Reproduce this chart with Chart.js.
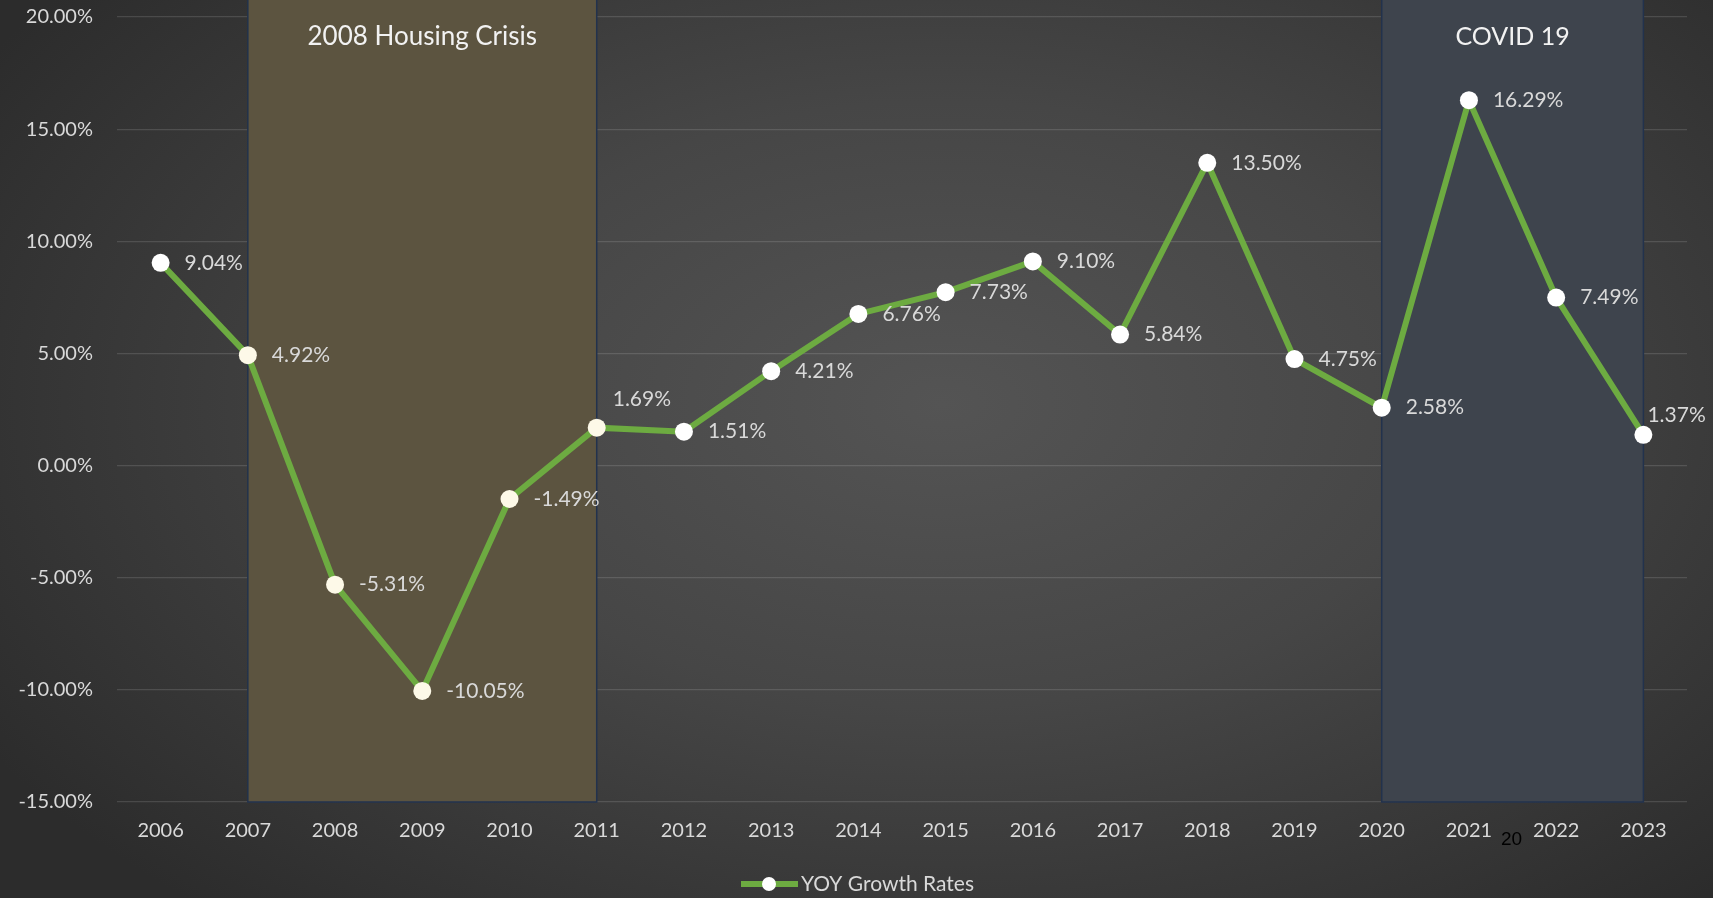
<!DOCTYPE html>
<html>
<head>
<meta charset="utf-8">
<script src="https://cdn.jsdelivr.net/npm/chart.js@4"></script>
<style>
  html, body {
    margin: 0;
    padding: 0;
    width: 1713px;
    height: 898px;
    overflow: hidden;
  }
  body {
    background: radial-gradient(ellipse 65% 75% at 55% 45%, #545454 0%, #464646 45%, #2c2c2c 100%);
  }
  #wrap {
    position: relative;
    width: 1713px;
    height: 898px;
  }
  #chart {
    display: block;
  }
  #stray {
    position: absolute;
    left: 1501px;
    top: 828px;
    font: 19px "Liberation Sans", Arial, sans-serif;
    color: #000;
  }
</style>
</head>
<body>
<div id="wrap">
  <canvas id="chart" width="1713" height="898"></canvas>
  <div id="stray">20</div>
</div>
<script>
const years = ["2006", "2007", "2008", "2009", "2010", "2011", "2012", "2013", "2014",
  "2015", "2016", "2017", "2018", "2019", "2020", "2021", "2022", "2023"];
const growth = [9.04, 4.92, -5.31, -10.05, -1.49, 1.69, 1.51, 4.21, 6.76,
  7.73, 9.10, 5.84, 13.50, 4.75, 2.58, 16.29, 7.49, 1.37];
const seriesName = "YOY Growth Rates";
const periods = [
  { label: "2008 Housing Crisis", from: "2007", to: "2011", fill: "#5c5440", size: 26 },
  { label: "COVID 19", from: "2020", to: "2023", fill: "#3e444d", size: 25 },
];

const FONT = "Lato, 'Open Sans', sans-serif";
const TEXT = "#d9d9d9";
const GREEN = "#6dab41";

// labels that sit somewhere other than straight to the right of the point
const labelNudge = { 5: [16, -28], 17: [4, -20] };

const periodShading = {
  id: "periodShading",
  beforeDatasetsDraw(chart) {
    const { ctx, chartArea, scales } = chart;
    ctx.save();
    for (const p of periods) {
      const x1 = scales.x.getPixelForValue(years.indexOf(p.from));
      const x2 = scales.x.getPixelForValue(years.indexOf(p.to));
      ctx.fillStyle = p.fill;
      ctx.fillRect(x1, 0, x2 - x1, chartArea.bottom);
      ctx.strokeStyle = "#22324d";
      ctx.lineWidth = 1.5;
      ctx.beginPath();
      ctx.moveTo(x1, 0);
      ctx.lineTo(x1, chartArea.bottom);
      ctx.lineTo(x2, chartArea.bottom);
      ctx.lineTo(x2, 0);
      ctx.stroke();
      ctx.fillStyle = "#f2f2f2";
      ctx.font = p.size + "px " + FONT;
      ctx.textAlign = "center";
      ctx.textBaseline = "middle";
      ctx.fillText(p.label, (x1 + x2) / 2, 37);
    }
    ctx.restore();
  },
};

const valueLabels = {
  id: "valueLabels",
  afterDatasetsDraw(chart) {
    const { ctx } = chart;
    const meta = chart.getDatasetMeta(0);
    ctx.save();
    ctx.font = "21px " + FONT;
    ctx.fillStyle = TEXT;
    ctx.textAlign = "left";
    ctx.textBaseline = "middle";
    meta.data.forEach((pt, i) => {
      const [dx, dy] = labelNudge[i] || [24, 0];
      ctx.fillText(growth[i].toFixed(2) + "%", pt.x + dx, pt.y + dy);
    });

    // legend
    const y = 884;
    ctx.strokeStyle = GREEN;
    ctx.lineWidth = 6;
    ctx.beginPath();
    ctx.moveTo(741, y);
    ctx.lineTo(798, y);
    ctx.stroke();
    ctx.fillStyle = "#ffffff";
    ctx.beginPath();
    ctx.arc(769, y, 7, 0, Math.PI * 2);
    ctx.fill();
    ctx.fillStyle = TEXT;
    ctx.font = "21px " + FONT;
    ctx.fillText(seriesName, 801, y);
    ctx.restore();
  },
};

const pointFill = years.map((y, i) => (i >= 1 && i <= 5 ? "#fdf9e8" : "#ffffff"));

new Chart(document.getElementById("chart"), {
  type: "line",
  data: {
    labels: years,
    datasets: [
      {
        label: seriesName,
        data: growth,
        borderColor: GREEN,
        borderWidth: 6,
        pointRadius: 9,
        pointHoverRadius: 9,
        pointBorderWidth: 0,
        pointBackgroundColor: pointFill,
        tension: 0,
      },
    ],
  },
  options: {
    responsive: false,
    animation: false,
    layout: { padding: { top: 17, right: 26, left: 0, bottom: 0 } },
    plugins: {
      legend: { display: false },
      tooltip: { enabled: false },
    },
    scales: {
      x: {
        offset: true,
        grid: { display: false, drawTicks: false },
        border: { display: false },
        ticks: { color: TEXT, font: { family: FONT, size: 20 }, padding: 17 },
        afterFit: (s) => { s.height = 96; },
      },
      y: {
        min: -15,
        max: 20,
        grid: { color: "rgba(255,255,255,0.13)", lineWidth: 1.2, drawTicks: false },
        border: { display: false },
        ticks: {
          stepSize: 5,
          color: TEXT,
          font: { family: FONT, size: 20 },
          padding: 24,
          callback: (v) => v.toFixed(2) + "%",
        },
        afterFit: (s) => {
          s.width = 117;
          s.paddingTop = 0;
          s.paddingBottom = 0;
        },
      },
    },
  },
  plugins: [periodShading, valueLabels],
});
</script>
</body>
</html>
